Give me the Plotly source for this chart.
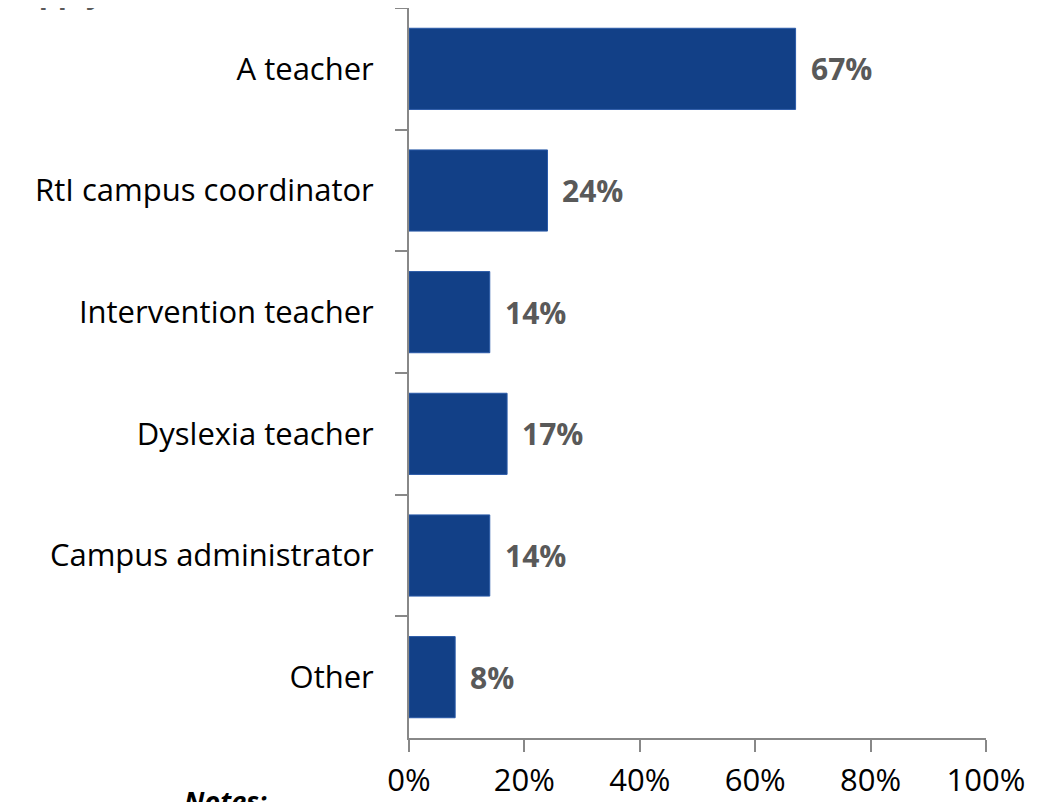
import plotly.graph_objects as go

categories = ["A teacher", "RtI campus coordinator", "Intervention teacher",
              "Dyslexia teacher", "Campus administrator", "Other"]
values = [0.67, 0.24, 0.14, 0.17, 0.14, 0.08]
labels = ["67%", "24%", "14%", "17%", "14%", "8%"]
x_ticks = [0, 0.2, 0.4, 0.6, 0.8, 1.0]
x_ticklabels = ["0%", "20%", "40%", "60%", "80%", "100%"]

FONT = "'Open Sans', sans-serif"

fig = go.Figure()
fig.add_trace(go.Bar(
    y=categories, x=values, orientation="h",
    marker=dict(color="#124087", line=dict(color="#2a5aa8", width=1)),
    width=0.667,
))

for c, v, t in zip(categories, values, labels):
    fig.add_annotation(x=v, y=c, text="<b>%s</b>" % t, showarrow=False,
                       xanchor="left", xshift=13,
                       font=dict(size=30, color="#595959", family=FONT))

fig.add_annotation(xref="paper", yref="paper", x=-0.31, y=1.0, yshift=-6,
                   text="<b>that apply) (n = 36)</b>", showarrow=False,
                   xanchor="right", yanchor="bottom",
                   font=dict(size=30, color="#595959", family=FONT))
fig.add_annotation(xref="paper", yref="paper", x=-0.243, y=0, yshift=-42,
                   text="<b><i>Notes:</i></b>", showarrow=False,
                   xanchor="right", yanchor="top",
                   font=dict(size=27, color="#000000", family=FONT))

fig.update_layout(
    width=1056, height=802,
    margin=dict(l=401, r=78, t=0, b=72),
    paper_bgcolor="white", plot_bgcolor="white",
    showlegend=False,
    font=dict(family=FONT, size=31, color="#000000"),
    bargap=0.333,
)
fig.update_xaxes(range=[0, 1], tickvals=x_ticks, ticktext=x_ticklabels,
                 showgrid=False, zeroline=False, showline=True,
                 linecolor="#888888", linewidth=2, ticks="outside",
                 ticklen=12, tickwidth=2, tickcolor="#888888",
                 automargin=False, ticklabelstandoff=2,
                 tickfont=dict(size=31, color="#000000"))
fig.update_yaxes(autorange="reversed", categoryorder="array",
                 categoryarray=categories, showgrid=False, zeroline=False,
                 showline=True, linecolor="#888888", linewidth=2,
                 ticks="outside", tickson="boundaries", ticklen=12,
                 tickwidth=2, tickcolor="#888888", automargin=False,
                 ticklabelstandoff=27,
                 tickfont=dict(size=31, color="#000000"))

fig.write_html("out.html")
